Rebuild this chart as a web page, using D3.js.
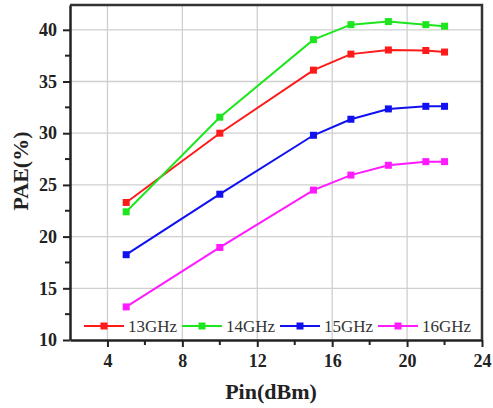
<!DOCTYPE html>
<html>
<head>
<meta charset="utf-8">
<script src="https://cdn.jsdelivr.net/npm/d3@7"></script>
<style>
  body { margin: 0; background: #fff; }
  svg { display: block; }
</style>
</head>
<body>
<script>
// Data
const pin = [5, 10, 15, 17, 19, 21, 22];
const pae13 = [23.3, 30.0, 36.1, 37.65, 38.05, 38.0, 37.85];
const pae14 = [22.4, 31.55, 39.05, 40.5, 40.8, 40.5, 40.35];
const pae15 = [18.25, 24.1, 29.8, 31.35, 32.35, 32.6, 32.6];
const pae16 = [13.2, 18.95, 24.5, 25.95, 26.9, 27.25, 27.25];
const seriesNames = ["13GHz", "14GHz", "15GHz", "16GHz"];
const seriesColors = ["#ff1a1a", "#1ee61e", "#1010f0", "#ff1aff"];
const xTicks = [4, 8, 12, 16, 20, 24];
const yTicks = [10, 15, 20, 25, 30, 35, 40];

const series = [pae13, pae14, pae15, pae16].map((vals, i) => ({
    name: seriesNames[i],
    color: seriesColors[i],
    points: vals.map((v, j) => ({x: pin[j], y: v}))
}));

// Size
const width = 493, height = 408;
const margin = {left: 70, right: 11, top: 5, bottom: 68};

const svg = d3.select("body").append("svg")
    .attr("width", width)
    .attr("height", height);

const x = d3.scaleLinear().domain([2, 24]).range([margin.left, width - margin.right]);
const y = d3.scaleLinear().domain([10, 42.4]).range([height - margin.bottom, margin.top]);

const serif = "'Liberation Serif', 'Times New Roman', serif";

// Grid
svg.append("g").selectAll("line")
    .data(xTicks.filter(d => d < 24))
    .join("line")
    .attr("x1", d => x(d)).attr("x2", d => x(d))
    .attr("y1", y.range()[0]).attr("y2", y.range()[1])
    .attr("stroke", "#cfcfcf").attr("stroke-width", 1.3);
svg.append("g").selectAll("line")
    .data(yTicks.filter(d => d > 10))
    .join("line")
    .attr("x1", x.range()[0]).attr("x2", x.range()[1])
    .attr("y1", d => y(d)).attr("y2", d => y(d))
    .attr("stroke", "#cfcfcf").attr("stroke-width", 1.3);

// Axes
const xAxis = svg.append("g")
    .attr("transform", `translate(0,${height - margin.bottom})`)
    .call(d3.axisBottom(x).tickValues(xTicks).tickSize(7).tickPadding(7).tickSizeOuter(0));
xAxis.append("g").selectAll("line")
    .data(d3.range(6, 24, 4))
    .join("line")
    .attr("x1", d => x(d)).attr("x2", d => x(d))
    .attr("y1", 0).attr("y2", 5)
    .attr("stroke", "#222").attr("stroke-width", 2);

const yAxis = svg.append("g")
    .attr("transform", `translate(${margin.left},0)`)
    .call(d3.axisLeft(y).tickValues(yTicks).tickSize(7).tickPadding(6).tickSizeOuter(0));
yAxis.append("g").selectAll("line")
    .data(d3.range(12.5, 42, 5))
    .join("line")
    .attr("x1", 0).attr("x2", -5)
    .attr("y1", d => y(d)).attr("y2", d => y(d))
    .attr("stroke", "#222").attr("stroke-width", 2);

[xAxis, yAxis].forEach(a => {
    a.select(".domain").attr("stroke", "#222").attr("stroke-width", 2.5);
    a.selectAll(".tick line").attr("stroke", "#222").attr("stroke-width", 2);
    a.selectAll(".tick text")
        .attr("font-family", serif).attr("font-weight", "bold")
        .attr("font-size", 18).attr("fill", "#222");
});

// Top and right frame
svg.append("path")
    .attr("d", `M${x.range()[0]},${y.range()[1]}H${x.range()[1]}V${y.range()[0]}`)
    .attr("fill", "none").attr("stroke", "#333").attr("stroke-width", 2.5);

// Lines and markers
const line = d3.line().x(d => x(d.x)).y(d => y(d.y));
const sg = svg.append("g").selectAll("g").data(series).join("g");
sg.append("path")
    .attr("d", d => line(d.points))
    .attr("fill", "none").attr("stroke", d => d.color).attr("stroke-width", 2);
sg.selectAll("rect")
    .data(d => d.points.map(p => ({...p, color: d.color})))
    .join("rect")
    .attr("x", d => x(d.x) - 3.5).attr("y", d => y(d.y) - 3.5)
    .attr("width", 7).attr("height", 7)
    .attr("fill", d => d.color);

// Legend
const legend = svg.append("g").attr("transform", "translate(84,326)");
const li = legend.selectAll("g").data(series).join("g")
    .attr("transform", (d, i) => `translate(${i * 98},0)`);
li.append("line")
    .attr("x1", 0).attr("x2", 40)
    .attr("stroke", d => d.color).attr("stroke-width", 2);
li.append("rect")
    .attr("x", 16.5).attr("y", -3.5).attr("width", 7).attr("height", 7)
    .attr("fill", d => d.color);
li.append("text")
    .attr("x", 44).attr("y", 6)
    .attr("font-family", serif).attr("font-size", 17).attr("fill", "#333")
    .text(d => d.name);

// Axis titles
svg.append("text")
    .attr("x", 271).attr("y", 399)
    .attr("text-anchor", "middle")
    .attr("font-family", serif).attr("font-weight", "bold").attr("font-size", 22)
    .attr("fill", "#222")
    .text("Pin(dBm)");
svg.append("text")
    .attr("transform", "translate(28,171) rotate(-90)")
    .attr("text-anchor", "middle")
    .attr("font-family", serif).attr("font-weight", "bold").attr("font-size", 22)
    .attr("fill", "#222")
    .text("PAE(%)");
</script>
</body>
</html>
